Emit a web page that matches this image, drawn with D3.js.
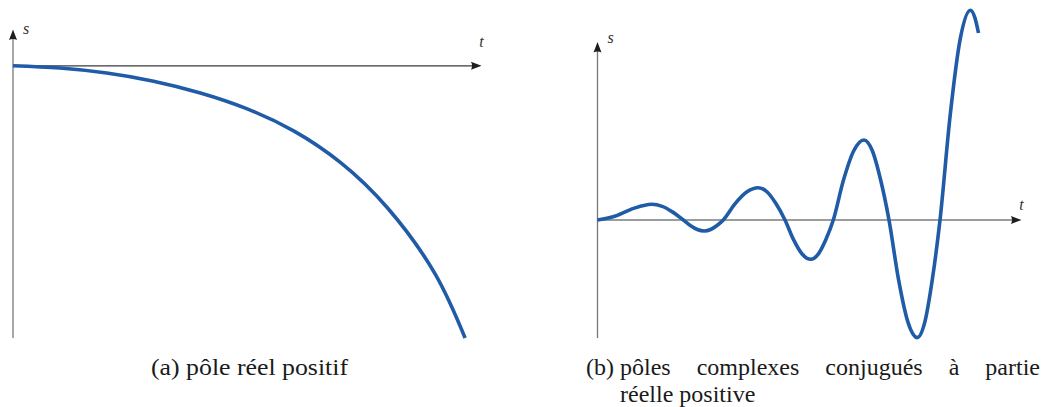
<!DOCTYPE html>
<html>
<head>
<meta charset="utf-8">
<script src="https://cdn.jsdelivr.net/npm/d3@7"></script>
<style>
  html, body { margin: 0; padding: 0; background: #fff; }
  svg { display: block; }
  .cap { font-family: "Liberation Serif", "DejaVu Serif", serif; font-size: 24px; fill: #1a1a1a; }
  .lab { font-family: "Liberation Serif", "DejaVu Serif", serif; font-style: italic; font-size: 16px; fill: #333; }
</style>
</head>
<body>
<svg id="fig" width="1042" height="407"></svg>
<script>
// (a) step response, one positive real pole: t and s samples
const tA = [0, 1, 2, 3, 4, 5, 6, 7, 8, 9, 9.65];
const sA = [0, -0.05, -0.16, -0.34, -0.60, -0.95, -1.44, -2.14, -3.14, -4.57, -6.0];

// (b) response with complex conjugate poles, positive real part
const tB = [0, 0.426, 0.852, 1.278, 1.527, 1.775, 2.024,
            2.189, 2.354, 2.519, 2.668, 2.818, 2.967,
            3.242, 3.517, 3.792, 4.002, 4.212, 4.422,
            4.624, 4.826, 5.028, 5.206, 5.384, 5.561,
            5.802, 6.044, 6.285, 6.482, 6.678, 6.875,
            7.097, 7.320, 7.542, 7.721, 7.899, 8.078,
            8.318, 8.557, 8.797, 8.90, 8.986];
const sB = [0, 0.10, 0.29, 0.393, 0.34, 0.197, 0,
            -0.138, -0.238, -0.275, -0.238, -0.138, 0,
            0.404, 0.700, 0.808, 0.700, 0.404, 0,
            -0.492, -0.851, -0.983, -0.851, -0.492, 0,
            1.0, 1.732, 2.0, 1.732, 1.0, 0,
            -1.47, -2.546, -2.94, -2.546, -1.47, 0,
            2.62, 4.54, 5.245, 5.06, 4.675];

// axis labels and captions
const axisLabels = { vertical: "s", horizontal: "t" };
const captionA = "(a) pôle réel positif";
const captionBLabel = "(b)";
const captionB1 = ["pôles", "complexes", "conjugués", "à", "partie"];
const captionB2 = "réelle positive";

const svg = d3.select("#fig");
const blue = "#1f5ba6";

// arrowhead pointing along +x, tip at origin
const arrowPath = "M0,0 L-10.5,-4 Q-8.5,0 -10.5,4 Z";

function drawPanel(x, y, ts, ss, curve, opts) {
  const g = svg.append("g");
  const [x0, x1] = x.range();
  const yBottom = y.range()[0], yTop = y.range()[1];
  const y0 = y(0);

  // vertical axis
  g.append("line")
    .attr("x1", x0).attr("x2", x0)
    .attr("y1", yBottom).attr("y2", yTop + 4)
    .attr("stroke", "#777").attr("stroke-width", 1.3);
  g.append("path").attr("d", arrowPath)
    .attr("transform", `translate(${x0},${yTop}) rotate(-90)`)
    .attr("fill", "#1e1e1e");

  // horizontal axis
  g.append("line")
    .attr("x1", x0).attr("x2", x1 - 4)
    .attr("y1", y0).attr("y2", y0)
    .attr("stroke", "#3a3a3a").attr("stroke-width", 1.2);
  g.append("path").attr("d", arrowPath)
    .attr("transform", `translate(${x1},${y0})`)
    .attr("fill", "#1e1e1e");

  // response curve
  const pts = ts.map((t, i) => [t, ss[i]]);
  g.append("path")
    .datum(pts)
    .attr("fill", "none")
    .attr("stroke", blue)
    .attr("stroke-width", 3.6)
    .attr("d", d3.line().x(d => x(d[0])).y(d => y(d[1])).curve(curve));

  // axis letters
  g.append("text").attr("class", "lab")
    .attr("x", x0 + opts.sdx).attr("y", yTop + opts.sdy)
    .text(axisLabels.vertical);
  g.append("text").attr("class", "lab")
    .attr("x", x1).attr("y", y0 + opts.tdy)
    .attr("text-anchor", "middle")
    .text(axisLabels.horizontal);
}

// panel (a)
const xA = d3.scaleLinear().domain([0, 10]).range([13, 481.5]);
const yA = d3.scaleLinear().domain([-6, 0.8]).range([338, 29.5]);
drawPanel(xA, yA, tA, sA, d3.curveNatural, { sdx: 10, sdy: 4, tdy: -19 });

// panel (b)
const xB = d3.scaleLinear().domain([0, 10]).range([597.5, 1021.5]);
const yB = d3.scaleLinear().domain([-2.95, 4.45]).range([338, 42]);
drawPanel(xB, yB, tB, sB, d3.curveMonotoneX, { sdx: 10, sdy: 1, tdy: -10 });

// caption (a)
svg.append("text").attr("class", "cap")
  .attr("x", 151).attr("y", 375)
  .attr("textLength", 197).attr("lengthAdjust", "spacingAndGlyphs")
  .text(captionA);

// caption (b): label, then a justified first line and a hanging second line
svg.append("text").attr("class", "cap")
  .attr("x", 586).attr("y", 374.5)
  .text(captionBLabel);
const left = 620, right = 1040;
const words = captionB1.map(w => svg.append("text").attr("class", "cap").attr("y", 374.5).text(w));
const widths = words.map(t => t.node().getComputedTextLength());
const gap = (right - left - d3.sum(widths)) / (words.length - 1);
let cx = left;
words.forEach((t, i) => { t.attr("x", cx); cx += widths[i] + gap; });

svg.append("text").attr("class", "cap")
  .attr("x", left).attr("y", 401.5)
  .text(captionB2);
</script>
</body>
</html>
